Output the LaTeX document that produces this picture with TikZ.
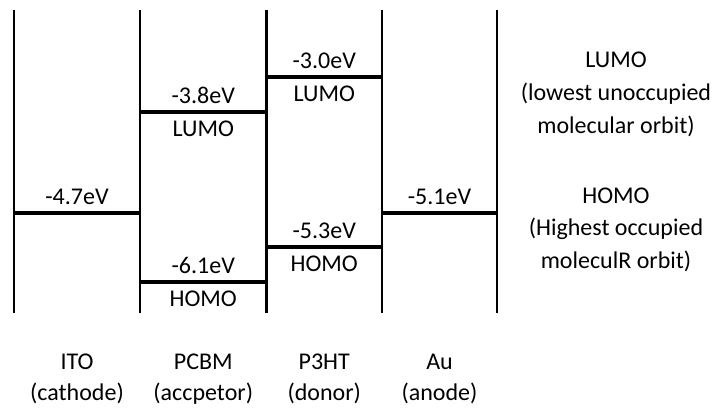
\documentclass[tikz,border=0pt]{standalone}
\usepackage{fontspec}
\setmainfont{Carlito}
\begin{document}
\begin{tikzpicture}[x=1pt,y=-1pt,
  wall/.style={line width=2.6pt},
  level/.style={line width=4.6pt},
  lbl/.style={anchor=base, inner sep=0pt, font=\fontsize{24}{29}\selectfont}]
\fill[white] (0,0) rectangle (718,408);
\useasboundingbox (0,0) rectangle (718,408);
% walls
\foreach \n/\x in {1/14,2/140,3/266.5,4/382,5/497}{
  \coordinate (w\n t) at (\x,10);
  \coordinate (w\n b) at (\x,313);
  \draw[wall] (w\n t) -- (w\n b);
}
% levels
\coordinate (itoL) at (14,213);   \coordinate (itoR) at (140,213);
\coordinate (pcLl) at (140,112);  \coordinate (pcLr) at (266.5,112);
\coordinate (pcHl) at (140,282);  \coordinate (pcHr) at (266.5,282);
\coordinate (p3Ll) at (266.5,77); \coordinate (p3Lr) at (382,77);
\coordinate (p3Hl) at (266.5,247);\coordinate (p3Hr) at (382,247);
\coordinate (auL) at (382,213);   \coordinate (auR) at (497,213);
\draw[level] (itoL) -- (itoR);
\draw[level] (pcLl) -- (pcLr);
\draw[level] (pcHl) -- (pcHr);
\draw[level] (p3Ll) -- (p3Lr);
\draw[level] (p3Hl) -- (p3Hr);
\draw[level] (auL) -- (auR);
% energy labels
\node[lbl] (e1) at (77,204) {-4.7eV};
\node[lbl] (e2) at (203.25,103) {-3.8eV};
\node[lbl] (e2b) at (203.25,136) {LUMO};
\node[lbl] (e3) at (203.25,273) {-6.1eV};
\node[lbl] (e3b) at (203.25,306) {HOMO};
\node[lbl] (e4) at (324.25,68) {-3.0eV};
\node[lbl] (e4b) at (324.25,101) {LUMO};
\node[lbl] (e5) at (324.25,238) {-5.3eV};
\node[lbl] (e5b) at (324.25,271) {HOMO};
\node[lbl] (e6) at (439.5,204) {-5.1eV};
% legend
\node[lbl] (g1) at (616,67) {LUMO};
\node[lbl] (g2) at (616,100) {(lowest unoccupied};
\node[lbl] (g3) at (616,133) {molecular orbit)};
\node[lbl] (g4) at (616,203) {HOMO};
\node[lbl] (g5) at (616,235) {(Highest occupied};
\node[lbl] (g6) at (616,268) {moleculR orbit)};
% bottom labels
\node[lbl] (m1) at (77,369) {ITO};
\node[lbl] (m1b) at (77,400) {(cathode)};
\node[lbl] (m2) at (203.25,369) {PCBM};
\node[lbl] (m2b) at (203.25,400) {(accpetor)};
\node[lbl] (m3) at (324.25,369) {P3HT};
\node[lbl] (m3b) at (324.25,400) {(donor)};
\node[lbl] (m4) at (439.5,369) {Au};
\node[lbl] (m4b) at (439.5,400) {(anode)};
\end{tikzpicture}
\end{document}
